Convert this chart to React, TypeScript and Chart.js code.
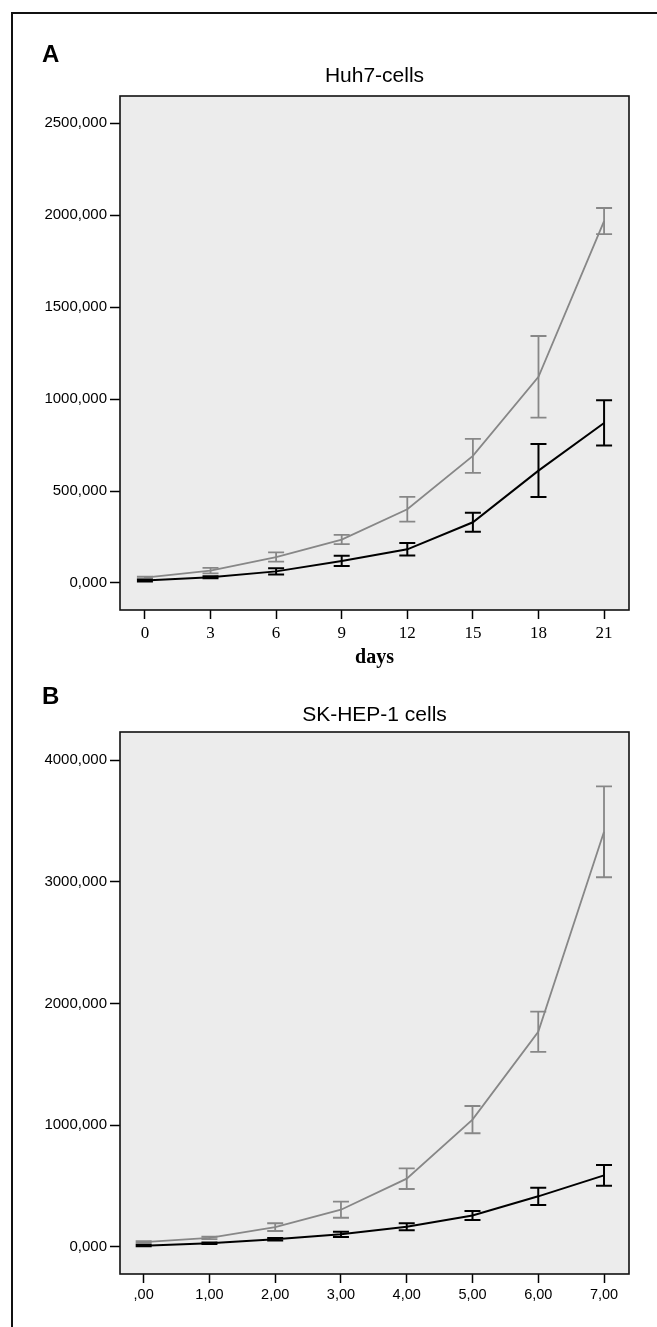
import React, { useEffect, useRef } from 'react';
import { Chart, registerables } from 'chart.js';

Chart.register(...registerables);

// ---------- Panel A: Huh7-cells ----------
const daysA = [0, 3, 6, 9, 12, 15, 18, 21];
const greyA = [29, 67, 141, 236, 401, 691, 1121, 1968];
const greyErrA = [6, 15, 25, 25, 67, 92, 222, 71];
const blackA = [13, 31, 63, 120, 183, 330, 611, 870];
const blackErrA = [5, 6, 17, 28, 34, 52, 144, 123];
const yTicksA = [0, 500, 1000, 1500, 2000, 2500];
const yLabelsA = ['0,000', '500,000', '1000,000', '1500,000', '2000,000', '2500,000'];
const xTicksA = [0, 3, 6, 9, 12, 15, 18, 21];
const xLabelsA = ['0', '3', '6', '9', '12', '15', '18', '21'];

// ---------- Panel B: SK-HEP-1 cells ----------
const daysB = [0, 1, 2, 3, 4, 5, 6, 7];
const greyB = [39, 74, 163, 306, 561, 1046, 1768, 3410];
const greyErrB = [8, 10, 32, 66, 85, 112, 165, 373];
const blackB = [11, 30, 63, 104, 166, 259, 416, 588];
const blackErrB = [5, 6, 10, 22, 29, 37, 71, 85];
const yTicksB = [0, 1000, 2000, 3000, 4000];
const yLabelsB = ['0,000', '1000,000', '2000,000', '3000,000', '4000,000'];
const xTicksB = [0, 1, 2, 3, 4, 5, 6, 7];
const xLabelsB = [',00', '1,00', '2,00', '3,00', '4,00', '5,00', '6,00', '7,00'];

const SANS = '"Liberation Sans", Arial, Helvetica, sans-serif';
const SERIF = '"Liberation Serif", "Times New Roman", Times, serif';
const GREY = '#878787';
const BLACK = '#000000';
const PLOT_BG = '#ececec';

const panelPlugin = {
  id: 'panelFrame',
  beforeDraw(chart: any) {
    const { ctx, chartArea: a } = chart;
    ctx.save();
    ctx.fillStyle = PLOT_BG;
    ctx.fillRect(a.left, a.top, a.right - a.left, a.bottom - a.top);
    ctx.restore();
  },
  afterDatasetsDraw(chart: any) {
    const { ctx, scales } = chart;
    const xs = scales.x;
    const ys = scales.y;
    const sets = chart.data.datasets.slice().reverse();
    sets.forEach((ds: any) => {
      ctx.save();
      ctx.strokeStyle = ds.borderColor;
      ctx.lineWidth = ds.barWidth;
      ds.data.forEach((p: any, i: number) => {
        const e = ds.errors[i];
        const px = xs.getPixelForValue(p.x);
        const y1 = ys.getPixelForValue(p.y + e);
        const y2 = ys.getPixelForValue(p.y - e);
        ctx.beginPath();
        ctx.moveTo(px, y1);
        ctx.lineTo(px, y2);
        ctx.moveTo(px - 8, y1);
        ctx.lineTo(px + 8, y1);
        ctx.moveTo(px - 8, y2);
        ctx.lineTo(px + 8, y2);
        ctx.stroke();
      });
      ctx.restore();
    });
  },
  afterDraw(chart: any) {
    const { ctx, chartArea: a } = chart;
    ctx.save();
    ctx.strokeStyle = '#111';
    ctx.lineWidth = 1.6;
    ctx.strokeRect(a.left, a.top, a.right - a.left, a.bottom - a.top);
    ctx.restore();
  },
};

type PanelProps = {
  top: number;
  height: number;
  padTop: number;
  padBottom: number;
  days: number[];
  grey: number[];
  greyErr: number[];
  black: number[];
  blackErr: number[];
  xMin: number;
  xMax: number;
  yMin: number;
  yMax: number;
  xTicks: number[];
  xLabels: string[];
  yTicks: number[];
  yLabels: string[];
  xFont: { family: string; size: number };
  xPad: number;
};

function Panel(p: PanelProps) {
  const ref = useRef<HTMLCanvasElement | null>(null);
  useEffect(() => {
    if (!ref.current) return;
    const chart = new Chart(ref.current, {
      type: 'line',
      data: {
        datasets: [
          {
            label: 'black',
            data: p.days.map((d, i) => ({ x: d, y: p.black[i] })),
            borderColor: BLACK,
            borderWidth: 2,
            pointRadius: 0,
            tension: 0,
            fill: false,
            errors: p.blackErr,
            barWidth: 2,
          } as any,
          {
            label: 'grey',
            data: p.days.map((d, i) => ({ x: d, y: p.grey[i] })),
            borderColor: GREY,
            borderWidth: 1.8,
            pointRadius: 0,
            tension: 0,
            fill: false,
            errors: p.greyErr,
            barWidth: 1.8,
          } as any,
        ],
      },
      options: {
        animation: false,
        responsive: false,
        devicePixelRatio: 1,
        layout: { padding: { top: p.padTop, bottom: p.padBottom, left: 0, right: 28 } },
        plugins: {
          legend: { display: false },
          tooltip: { enabled: false },
          title: { display: false },
        },
        scales: {
          x: {
            type: 'linear',
            position: 'bottom',
            min: p.xMin,
            max: p.xMax,
            afterBuildTicks: (s: any) => {
              s.ticks = p.xTicks.map((v) => ({ value: v }));
            },
            afterFit: (s: any) => {
              s.height = 40;
            },
            grid: {
              display: true,
              drawOnChartArea: false,
              drawTicks: true,
              tickLength: 9,
              tickColor: '#000',
              tickWidth: 1.5,
            },
            border: { display: false },
            ticks: {
              color: '#000',
              padding: p.xPad,
              maxRotation: 0,
              autoSkip: false,
              font: p.xFont,
              callback: (_v: any, i: number) => p.xLabels[i],
            },
          },
          y: {
            type: 'linear',
            position: 'left',
            min: p.yMin,
            max: p.yMax,
            afterBuildTicks: (s: any) => {
              s.ticks = p.yTicks.map((v) => ({ value: v }));
            },
            afterFit: (s: any) => {
              s.width = 120;
            },
            grid: {
              display: true,
              drawOnChartArea: false,
              drawTicks: true,
              tickLength: 10,
              tickColor: '#000',
              tickWidth: 1.5,
            },
            border: { display: false },
            ticks: {
              color: '#000',
              padding: 3,
              autoSkip: false,
              font: { family: SANS, size: 15 },
              callback: (_v: any, i: number) => p.yLabels[i],
            },
          },
        },
      } as any,
      plugins: [panelPlugin],
    });
    return () => chart.destroy();
  }, []);
  return (
    <canvas
      ref={ref}
      width={657}
      height={p.height}
      style={{ position: 'absolute', left: 0, top: p.top, width: 657, height: p.height }}
    />
  );
}

export default function App() {
  const letter: React.CSSProperties = {
    position: 'absolute',
    left: 42,
    font: `bold 24px ${SANS}`,
    lineHeight: '24px',
    color: '#000',
  };
  const title: React.CSSProperties = {
    position: 'absolute',
    left: 120,
    width: 509,
    textAlign: 'center',
    font: `21px ${SANS}`,
    lineHeight: '21px',
    color: '#000',
  };
  return (
    <div
      style={{
        position: 'fixed',
        left: 0,
        top: 0,
        width: 657,
        height: 1327,
        overflow: 'hidden',
        background: '#fff',
      }}
    >
      <div
        style={{
          position: 'absolute',
          left: 11,
          top: 12,
          width: 700,
          height: 1400,
          borderLeft: '2px solid #111',
          borderTop: '2px solid #111',
        }}
      />
      <Panel
        top={0}
        height={680}
        padTop={96}
        padBottom={30}
        days={daysA}
        grey={greyA}
        greyErr={greyErrA}
        black={blackA}
        blackErr={blackErrA}
        xMin={-1.14}
        xMax={22.14}
        yMin={-147}
        yMax={2648}
        xTicks={xTicksA}
        xLabels={xLabelsA}
        yTicks={yTicksA}
        yLabels={yLabelsA}
        xFont={{ family: SERIF, size: 17 }}
        xPad={4}
      />
      <Panel
        top={680}
        height={647}
        padTop={52}
        padBottom={13}
        days={daysB}
        grey={greyB}
        greyErr={greyErrB}
        black={blackB}
        blackErr={blackErrB}
        xMin={-0.36}
        xMax={7.38}
        yMin={-222}
        yMax={4230}
        xTicks={xTicksB}
        xLabels={xLabelsB}
        yTicks={yTicksB}
        yLabels={yLabelsB}
        xFont={{ family: SANS, size: 14.5 }}
        xPad={3}
      />
      <div style={{ ...letter, top: 42 }}>A</div>
      <div style={{ ...title, top: 64 }}>Huh7-cells</div>
      <div
        style={{
          position: 'absolute',
          left: 120,
          width: 509,
          top: 646,
          textAlign: 'center',
          font: `bold 20px ${SERIF}`,
          lineHeight: '20px',
          color: '#000',
        }}
      >
        days
      </div>
      <div style={{ ...letter, top: 684 }}>B</div>
      <div style={{ ...title, top: 703 }}>SK-HEP-1 cells</div>
    </div>
  );
}
